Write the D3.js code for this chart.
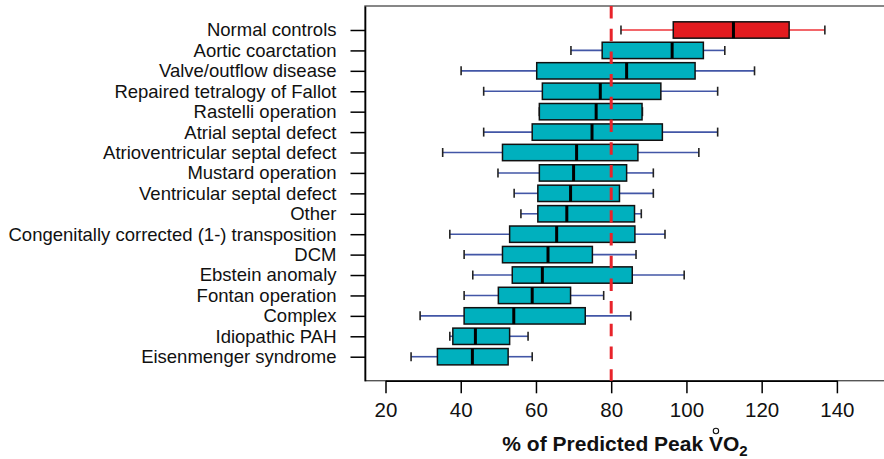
<!DOCTYPE html>
<html>
<head>
<meta charset="utf-8">
<script src="https://cdn.jsdelivr.net/npm/d3@7"></script>
<style>
  html, body { margin: 0; padding: 0; background: #fff; }
  svg { display: block; }
  text { font-family: "Liberation Sans", Arial, Helvetica, sans-serif; }
</style>
</head>
<body>
<svg id="chart" width="884" height="459"></svg>
<script>
const categories = ["Normal controls","Aortic coarctation","Valve/outflow disease","Repaired tetralogy of Fallot","Rastelli operation","Atrial septal defect","Atrioventricular septal defect","Mustard operation","Ventricular septal defect","Other","Congenitally corrected (1-) transposition","DCM","Ebstein anomaly","Fontan operation","Complex","Idiopathic PAH","Eisenmenger syndrome"];
const whiskerLow  = [82.6, 69.3, 40.1, 46.1, 60.9, 46.1, 35.2, 49.9, 54.2, 56.0, 37.1, 40.9, 43.2, 40.9, 29.2, 37.1, 26.8];
const q1          = [96.5, 77.6, 60.2, 61.7, 60.9, 59.0, 51.1, 60.9, 60.5, 60.5, 53.0, 51.1, 53.7, 50.0, 40.9, 37.9, 33.8];
const medians     = [112.5, 96.2, 84.1, 77.1, 76.0, 74.9, 70.8, 70.0, 69.2, 68.2, 65.5, 63.2, 61.7, 59.0, 54.1, 43.9, 43.1];
const q3          = [127.3, 104.5, 102.3, 93.2, 88.2, 93.6, 87.1, 84.1, 82.2, 86.2, 86.3, 75.0, 85.6, 69.2, 73.1, 53.0, 52.6];
const whiskerHigh = [136.8, 110.2, 118.1, 108.3, 88.3, 108.3, 103.3, 91.2, 91.2, 88.0, 94.3, 86.6, 99.4, 78.0, 85.2, 57.9, 59.0];
const xTicks = [20, 40, 60, 80, 100, 120, 140];
const referenceValue = 80;
const highlightCategory = "Normal controls";

const rows = categories.map((c, i) => ({
  name: c, lo: whiskerLow[i], q1: q1[i], med: medians[i], q3: q3[i], hi: whiskerHigh[i]
}));

const svg = d3.select("#chart");
const frame = {left: 365, right: 885, top: 6, bottom: 380.7};

const x = d3.scaleLinear().domain([20, 140]).range([385.5, 836.9]);
const y = d3.scalePoint().domain(categories).range([frame.top, frame.bottom]).padding(1.175);
const boxH = y.step() * 0.8;

const teal = "#00B0BE", red = "#E31B1F", whiskerBlue = "#4256A6", whiskerRed = "#EE3338";

// frame
svg.append("rect")
  .attr("x", frame.left).attr("y", frame.top)
  .attr("width", frame.right - frame.left).attr("height", frame.bottom - frame.top)
  .attr("fill", "none").attr("stroke", "#555").attr("stroke-width", 1.4);

// x axis
const xAxis = svg.append("g").attr("transform", `translate(0,${frame.bottom})`)
  .call(d3.axisBottom(x).tickValues(xTicks).tickSize(12.6).tickPadding(9).tickSizeOuter(0));
xAxis.select(".domain").attr("stroke", "#000").attr("stroke-width", 1.6);
xAxis.selectAll(".tick line").attr("stroke", "#000").attr("stroke-width", 1.5);
xAxis.selectAll(".tick text").attr("font-size", "20.5px").attr("fill", "#111")
  .attr("font-family", "Liberation Sans, Arial, sans-serif");

// y axis
const yAxis = svg.append("g").attr("transform", `translate(${frame.left},0)`)
  .call(d3.axisLeft(y).tickSize(14.5).tickPadding(14).tickSizeOuter(0));
yAxis.select(".domain").attr("stroke", "#000").attr("stroke-width", 1.6);
yAxis.selectAll(".tick line").attr("stroke", "#000").attr("stroke-width", 1.5);
yAxis.selectAll(".tick text").attr("font-size", "18.5px").attr("fill", "#111")
  .attr("font-family", "Liberation Sans, Arial, sans-serif");

// boxes
const g = svg.append("g");
const row = g.selectAll("g.row").data(rows).join("g").attr("class", "row");

row.append("line")
  .attr("x1", d => x(d.lo)).attr("x2", d => x(d.q1))
  .attr("y1", d => y(d.name)).attr("y2", d => y(d.name))
  .attr("stroke", d => d.name === highlightCategory ? whiskerRed : whiskerBlue).attr("stroke-width", 1.6);
row.append("line")
  .attr("x1", d => x(d.q3)).attr("x2", d => x(d.hi))
  .attr("y1", d => y(d.name)).attr("y2", d => y(d.name))
  .attr("stroke", d => d.name === highlightCategory ? whiskerRed : whiskerBlue).attr("stroke-width", 1.6);
row.append("line")
  .attr("x1", d => x(d.lo)).attr("x2", d => x(d.lo))
  .attr("y1", d => y(d.name) - 4.5).attr("y2", d => y(d.name) + 4.5)
  .attr("stroke", "#222").attr("stroke-width", 1.6);
row.append("line")
  .attr("x1", d => x(d.hi)).attr("x2", d => x(d.hi))
  .attr("y1", d => y(d.name) - 4.5).attr("y2", d => y(d.name) + 4.5)
  .attr("stroke", "#222").attr("stroke-width", 1.6);
row.append("rect")
  .attr("x", d => x(d.q1)).attr("width", d => x(d.q3) - x(d.q1))
  .attr("y", d => y(d.name) - boxH / 2).attr("height", boxH)
  .attr("fill", d => d.name === highlightCategory ? red : teal)
  .attr("stroke", "#111").attr("stroke-width", 1.5);
row.append("line")
  .attr("x1", d => x(d.med)).attr("x2", d => x(d.med))
  .attr("y1", d => y(d.name) - boxH / 2).attr("y2", d => y(d.name) + boxH / 2)
  .attr("stroke", "#000").attr("stroke-width", 3);

// reference line
svg.append("line")
  .attr("x1", x(referenceValue)).attr("x2", x(referenceValue))
  .attr("y1", frame.top).attr("y2", frame.bottom)
  .attr("stroke", "#E8232A").attr("stroke-width", 3)
  .attr("stroke-dasharray", "12.5,10.2");

// x title
const title = svg.append("text")
  .attr("x", (frame.left + frame.right) / 2).attr("y", 451)
  .attr("text-anchor", "middle")
  .attr("font-size", "21px").attr("font-weight", "bold").attr("fill", "#111");
title.append("tspan").text("% of Predicted Peak VO");
title.append("tspan").attr("font-size", "15px").attr("dy", 5).text("2");
const node = title.node();
const vIdx = "% of Predicted Peak ".length;
const s = node.getStartPositionOfChar(vIdx), e = node.getEndPositionOfChar(vIdx);
svg.append("circle")
  .attr("cx", (s.x + e.x) / 2).attr("cy", 431)
  .attr("r", 2.7).attr("fill", "none").attr("stroke", "#111").attr("stroke-width", 1.1);
</script>
</body>
</html>
